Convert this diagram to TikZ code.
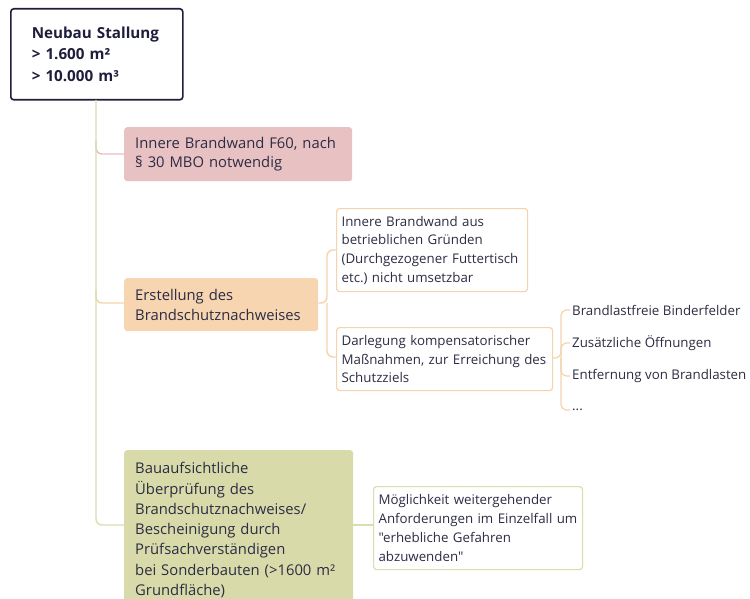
\documentclass[tikz,border=0pt]{standalone}
\usepackage{fontspec}
\setmainfont{Open Sans}[Ligatures=TeXOff]
\frenchspacing
\definecolor{navy}{HTML}{1E1E3C}
\definecolor{ink}{HTML}{2C2C44}
\definecolor{redfill}{HTML}{E8C2C2}
\definecolor{orfill}{HTML}{F6D5B0}
\definecolor{orline}{HTML}{F5D3AC}
\definecolor{grfill}{HTML}{D8DBA9}
\definecolor{grline}{HTML}{D8DFAE}
\definecolor{redline}{HTML}{E6BEBE}
\begin{document}
\begin{tikzpicture}[x=1pt,y=-1pt,
  box/.style={rounded corners=3pt, inner xsep=11pt, inner ysep=0pt, align=left, text=ink, anchor=north west},
  sub/.style={box, draw, line width=1.2pt, fill=white, inner xsep=5pt},
  leaf/.style={anchor=west, text=ink, inner sep=2pt, font=\fontsize{13.3}{18}\selectfont},
  conn/.style={line width=1.4pt, rounded corners=6pt}]
\useasboundingbox (0,0) rectangle (750,599);
\clip (0,0) rectangle (750,599);
% root
\node[box, draw=navy, line width=1.6pt, fill=white, text=navy, minimum width=172pt, minimum height=91pt, text width=130pt, inner xsep=21pt,
  font=\bfseries\fontsize{15.2}{21.5}\selectfont] (root) at (10,8)
  {Neubau Stallung\\> 1.600 m²\\> 10.000 m³};
% level 1
\node[box, fill=redfill, minimum width=228pt, minimum height=54pt, text width=206pt,
  font=\fontsize{14.8}{19.5}\selectfont] (red) at (124,127)
  {Innere Brandwand F60, nach\\§ 30 MBO notwendig};
\node[box, fill=orfill, minimum width=194pt, minimum height=53pt, text width=172pt,
  font=\fontsize{14.8}{20}\selectfont] (orange) at (124,278)
  {Erstellung des\\Brandschutznachweises};
\node[box, fill=grfill, minimum width=229pt, minimum height=160pt, text width=207pt,
  font=\fontsize{14.8}{20.3}\selectfont] (green) at (124,450)
  {Bauaufsichtliche\\Überprüfung des\\Brandschutznachweises/\\Bescheinigung durch\\Prüfsachverständigen\\bei Sonderbauten (>1600 m²\\Grundfläche)};
% level 2
\node[sub, draw=orline, minimum width=191pt, minimum height=83pt, text width=181pt,
  font=\fontsize{13.3}{18.6}\selectfont] (sub1) at (336,208)
  {Innere Brandwand aus\\betrieblichen Gründen\\(Durchgezogener Futtertisch\\etc.) nicht umsetzbar};
\node[sub, draw=orline, minimum width=216pt, minimum height=63pt, text width=206pt,
  font=\fontsize{13.3}{18.6}\selectfont] (sub2) at (336,327)
  {Darlegung kompensatorischer\\Maßnahmen, zur Erreichung des\\Schutzziels};
\node[sub, draw=grline, minimum width=209pt, minimum height=83pt, text width=199pt,
  font=\fontsize{13.3}{18.9}\selectfont] (gsub) at (373,486)
  {Möglichkeit weitergehender\\Anforderungen im Einzelfall um\\"erhebliche Gefahren\\abzuwenden"};
% leaves
\node[leaf] (l1) at (570,310) {Brandlastfreie Binderfelder};
\node[leaf] (l2) at (570,343) {Zusätzliche Öffnungen};
\node[leaf] (l3) at (570,376) {Entfernung von Brandlasten};
\node[leaf] (l4) at (570,410) {...};
% connectors
\coordinate (t) at (96,100);
\draw[conn, redline] (96,140) -- (96,154) -- (red.west |- 0,154);
\draw[conn, orline] (96,290) -- (96,303) -- (orange.west |- 0,303);
\draw[conn, grline] (t) -- (96,525) -- (green.west |- 0,525);
\draw[conn, orline] (orange.east |- 0,303) -- (327,303) -- (327,250) -- (sub1.west |- 0,250);
\draw[conn, orline] (327,303) -- (327,357) -- (sub2.west |- 0,357);
\draw[conn, grline] (green.east |- 0,525) -- (gsub.west |- 0,525);
\draw[conn, orline, line width=1.2pt] (sub2.east |- 0,358) -- (561,358) -- (561,310) -- (l1.west);
\draw[conn, orline, line width=1.2pt] (561,358) -- (561,343) -- (l2.west);
\draw[conn, orline, line width=1.2pt] (561,358) -- (561,376) -- (l3.west);
\draw[conn, orline, line width=1.2pt] (561,358) -- (561,410) -- (l4.west);
\end{tikzpicture}
\end{document}
